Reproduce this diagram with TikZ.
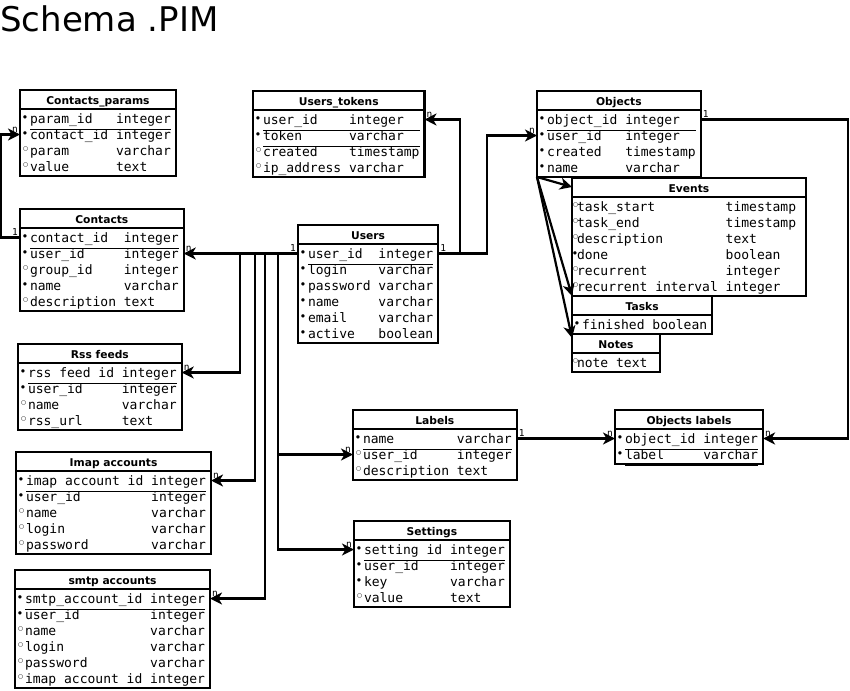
\documentclass[tikz,border=0pt]{standalone}
\usepackage{fontspec}
\setmainfont{DejaVu Sans}
\newfontfamily\tabfont{DejaVu Sans Mono}
\newfontfamily\bulfont{DejaVu Sans}
\usetikzlibrary{arrows.meta, shapes.multipart}

%% -- row layout of the tables --
\newlength\bulw \setlength\bulw{10pt}
\newlength\bulo \setlength\bulo{3pt}
\setlength\arrayrulewidth{1.3pt}
\newcommand\kd{\makebox[\bulw][l]{\hspace{\bulo}\raisebox{5.6pt}{\bulfont\fontsize{4.4}{5}\selectfont ●}}}
\newcommand\od{\makebox[\bulw][l]{\hspace{\bulo}\raisebox{5.1pt}{\bulfont\fontsize{5.8}{6}\selectfont ○}}}
\newcommand\rowkey[2]{\kd & #1 & #2\\\cline{2-3}}
\newcommand\rowfull[2]{\kd & #1 & #2\\}
\newcommand\rowopen[2]{\od & #1 & #2\\}
\newcommand\thead[1]{\rule[-3.4pt]{0pt}{16pt}\bfseries\fontsize{10.7}{12}\selectfont #1}
\newcommand\tbody[1]{\tabfont\fontsize{13}{16}\selectfont
  \raisebox{-2pt}[\height][\depth]{\begin{tabular}{@{}l@{}l@{\ }l@{}}#1\end{tabular}}\kern5pt}

\tikzset{
  %% -- table box: title part + column part --
  er/table/.style={
    draw, line width=2.3pt, rectangle split, rectangle split parts=2,
    rectangle split part align={center,left},
    inner xsep=0pt, inner ysep=0.35pt, outer sep=0pt, anchor=north west
  },
  %% -- relation line --
  er/rel/.style={line width=2.2pt, -{Stealth[length=12pt,width=12pt,inset=3.5pt]}},
  %% -- cardinality mark --
  er/card/.style={font=\tabfont\fontsize{9.5}{10}\selectfont, inner sep=1pt},
  er/title/.style={font=\fontsize{34}{40}\selectfont, inner sep=0pt},
}

\begin{document}
\begin{tikzpicture}[x=1pt, y=-1pt]
\useasboundingbox (0,0) rectangle (850,690);

\node[er/title, anchor=base west] (title) at (0,32) {Schema .PIM};

%% Tables
\node[er/table] (cparams) at (20,90)
  {\thead{Contacts\_params}\nodepart{second}\tbody{%
    \rowkey{param\_id}{integer}
    \rowfull{contact\_id}{integer}
    \rowopen{param}{varchar}
    \rowopen{value}{text}}};
\node[er/table] (utokens) at (253,91)
  {\thead{Users\_tokens}\nodepart{second}\tbody{%
    \rowkey{user\_id}{integer}
    \rowkey{token}{varchar}
    \rowopen{created}{timestamp}
    \rowopen{ip\_address}{varchar}}};
\node[er/table] (objects) at (537,91)
  {\thead{Objects}\nodepart{second}\tbody{%
    \rowkey{object\_id}{integer}
    \rowfull{user\_id}{integer}
    \rowfull{created}{timestamp}
    \rowfull{name}{varchar}}};
\node[er/table, minimum width=234pt] (events) at (572,178)
  {\thead{Events}\nodepart{second}\setlength\bulw{5pt}\setlength\bulo{1pt}\tbody{%
    \rowopen{task\_start}{timestamp}
    \rowopen{task\_end}{timestamp}
    \rowopen{description}{text}
    \rowfull{done}{boolean}
    \rowopen{recurrent}{integer}
    \rowopen{recurrent interval}{integer}}};
\node[er/table] (tasks) at (572,296)
  {\thead{Tasks}\nodepart{second}\tbody{%
    \rowfull{finished}{boolean}}};
\node[er/table, minimum width=88pt] (notes) at (572,334)
  {\thead{Notes}\nodepart{second}\setlength\bulw{5pt}\setlength\bulo{1pt}\tbody{%
    \rowopen{note}{text}}};
\node[er/table] (contacts) at (20,209)
  {\thead{Contacts}\nodepart{second}\tbody{%
    \rowkey{contact\_id}{integer}
    \rowfull{user\_id}{integer}
    \rowopen{group\_id}{integer}
    \rowfull{name}{varchar}
    \rowopen{description}{text}}};
\node[er/table] (users) at (298,225)
  {\thead{Users}\nodepart{second}\tbody{%
    \rowkey{user\_id}{integer}
    \rowfull{login}{varchar}
    \rowfull{password}{varchar}
    \rowfull{name}{varchar}
    \rowfull{email}{varchar}
    \rowfull{active}{boolean}}};
\node[er/table] (rss) at (18,344)
  {\thead{Rss feeds}\nodepart{second}\tbody{%
    \rowkey{rss feed id}{integer}
    \rowfull{user\_id}{integer}
    \rowopen{name}{varchar}
    \rowopen{rss\_url}{text}}};
\node[er/table] (imap) at (16,452)
  {\thead{Imap accounts}\nodepart{second}\tbody{%
    \rowkey{imap account id}{integer}
    \rowfull{user\_id}{integer}
    \rowopen{name}{varchar}
    \rowopen{login}{varchar}
    \rowopen{password}{varchar}}};
\node[er/table] (smtp) at (15,570)
  {\thead{smtp accounts}\nodepart{second}\tbody{%
    \rowkey{smtp\_account\_id}{integer}
    \rowfull{user\_id}{integer}
    \rowopen{name}{varchar}
    \rowopen{login}{varchar}
    \rowopen{password}{varchar}
    \rowopen{imap account id}{integer}}};
\node[er/table] (labels) at (353,410)
  {\thead{Labels}\nodepart{second}\tbody{%
    \rowkey{name}{varchar}
    \rowopen{user\_id}{integer}
    \rowopen{description}{text}}};
\node[er/table] (settings) at (354,521)
  {\thead{Settings}\nodepart{second}\tbody{%
    \rowkey{setting id}{integer}
    \rowfull{user\_id}{integer}
    \rowfull{key}{varchar}
    \rowopen{value}{text}}};
\node[er/table] (olabels) at (615,410)
  {\thead{Objects labels}\nodepart{second}\tbody{%
    \rowkey{object\_id}{integer}
    \rowkey{label}{varchar}}};

%% Relations from Users (left side)
\draw[er/rel] ([yshift=-28.5]users.north west) node[er/card, above left]{1}
  -- ([yshift=-44.5]contacts.north east) node[er/card, above right]{n};
\draw[er/rel] ([yshift=-28.5]users.north west) -- ++(-58,0)
  |- ([yshift=-28.5]rss.north east) node[er/card, above right]{n};
\draw[er/rel] ([yshift=-28.5]users.north west) -- ++(-43,0)
  |- ([yshift=-28.5]imap.north east) node[er/card, above right]{n};
\draw[er/rel] ([yshift=-28.5]users.north west) -- ++(-33,0)
  |- ([yshift=-28.5]smtp.north east) node[er/card, above right]{n};
\draw[er/rel] ([yshift=-28.5]users.north west) -- ++(-20,0)
  |- ([yshift=-44.5]labels.north west) node[er/card, above left]{n};
\draw[er/rel] ([yshift=-28.5]users.north west) -- ++(-20,0)
  |- ([yshift=-28.5]settings.north west) node[er/card, above left]{n};

%% Relations from Users (right side)
\draw[er/rel] ([yshift=-28.5]users.north east) node[er/card, above right]{1}
  -- ++(22,0) |- ([yshift=-28.5]utokens.north east) node[er/card, above right]{n};
\draw[er/rel] ([yshift=-28.5]users.north east) -- ++(49,0)
  |- ([yshift=-44.5]objects.north west) node[er/card, above left]{n};

%% Contacts -> params
\draw[er/rel] ([yshift=-28.5]contacts.north west) node[er/card, above left]{1}
  -- ++(-19,0) |- ([yshift=-44.5]cparams.north west) node[er/card, above left]{n};

%% Objects labels
\draw[er/rel] ([yshift=-28.5]objects.north east) node[er/card, above right]{1}
  -- ++(147,0) |- ([yshift=-28.5]olabels.north east) node[er/card, above right]{n};
\draw[er/rel] ([yshift=-28.5]labels.north east) node[er/card, above right]{1}
  -- ([yshift=-28.5]olabels.north west) node[er/card, above left]{n};

%% Object subtypes
\draw[er/rel] (objects.south west) -- ([yshift=-9]events.north west);
\draw[er/rel] (objects.south west) -- (tasks.north west);
\draw[er/rel] (objects.south west) -- ([yshift=-4]notes.north west);
\end{tikzpicture}
\end{document}
